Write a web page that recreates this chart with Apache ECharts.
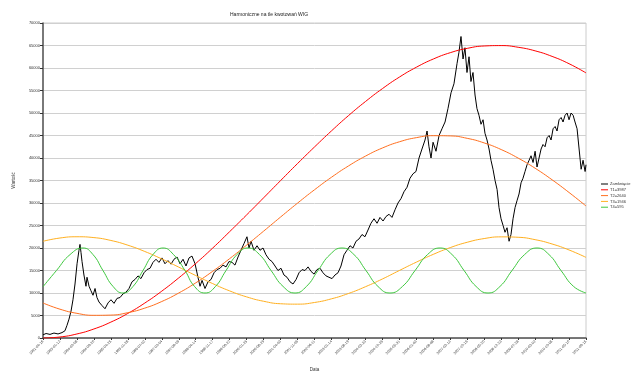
<!DOCTYPE html>
<html><head><meta charset="utf-8">
<script src="https://cdn.jsdelivr.net/npm/echarts@6/dist/echarts.min.js"></script>
<style>html,body{margin:0;padding:0;background:#fff}#c{width:640px;height:384px}</style>
</head><body><div id="c"></div>
<script>
// x = numer sesji (co 150 sesji etykieta daty)
const tickLabels = ["1991-04-16","1993-01-12","1994-02-08","1994-09-20","1995-04-25","1995-11-28","1996-07-02","1997-02-04","1997-09-09","1998-04-14","1998-11-17","1999-06-22","2000-01-25","2000-08-29","2001-04-03","2001-11-06","2002-06-11","2003-01-14","2003-08-19","2004-03-23","2004-10-26","2005-05-31","2006-01-03","2006-08-08","2007-03-13","2007-10-16","2008-05-20","2008-12-23","2009-07-28","2010-03-02","2010-10-05","2011-05-10","2011-09-15"];
const seriesNames = ["Zamknięcie","T1=3987","T2=2640","T3=1946","T4=595"];
const wigX = [0,27,62,97,133,168,194,212,230,248,265,283,301,318,327,336,345,362,380,389,407,424,442,460,477,495,522,548,575,601,628,654,681,707,734,760,787,813,840,866,893,919,946,972,999,1025,1052,1078,1105,1132,1158,1185,1211,1238,1264,1291,1317,1344,1370,1388,1406,1432,1459,1485,1512,1538,1565,1591,1618,1644,1671,1697,1724,1750,1777,1803,1821,1839,1865,1892,1918,1945,1971,1998,2024,2051,2077,2104,2130,2157,2183,2210,2237,2263,2290,2316,2343,2369,2396,2422,2449,2475,2502,2528,2555,2581,2608,2634,2661,2687,2714,2740,2767,2793,2820,2846,2873,2899,2926,2953,2979,3006,3032,3059,3085,3112,3138,3165,3191,3218,3244,3271,3297,3324,3350,3377,3395,3412,3430,3448,3474,3501,3527,3554,3580,3607,3633,3660,3677,3695,3713,3730,3748,3766,3783,3801,3819,3836,3854,3872,3890,3907,3925,3943,3960,3978,3996,4014,4031,4049,4067,4084,4102,4120,4137,4155,4173,4190,4208,4226,4243,4261,4279,4297,4314,4332,4350,4367,4385,4403,4420,4438,4456,4474,4491,4509,4527,4544,4562,4580,4597,4615,4633,4650,4668,4686,4703,4721,4739,4757,4774,4792,4800];
const wigY = [700,1000,800,1100,900,1200,1600,2800,4200,6000,8500,12000,16500,19500,20800,19000,17000,14000,11500,13500,11500,10500,9500,11000,9000,8000,7200,6500,7800,8500,7700,8800,9000,9800,10200,11000,12500,13000,13800,13200,14500,15200,15500,16800,17500,16800,17800,16500,17200,16400,17500,18000,16500,17500,16000,17800,18200,16500,13500,11500,12800,11000,12500,13000,14500,15200,15500,16200,15800,17000,16800,16200,18000,19500,21000,22500,20000,21500,19500,20500,19500,20000,18500,17500,17000,16000,15000,15500,14000,13500,12500,12000,13000,14500,15200,15000,15800,14800,14200,15200,15500,14500,13800,13500,13200,14000,14500,16000,18500,19500,20500,20000,21500,22000,23000,22500,24000,25500,26500,25500,26800,26000,27000,27500,26800,28500,30000,31000,32500,33500,35500,36500,37000,40000,42000,44000,46000,42500,40000,43500,41500,45000,46500,48000,51000,54500,56500,61000,63500,67000,62000,64500,59000,62500,57000,59000,54000,51000,49500,47500,48500,45500,44000,42000,39500,37500,35000,33000,29000,26500,25000,23500,24500,21500,23000,26500,29000,30500,32000,34500,35500,37000,38500,39500,40500,39000,41500,38000,40000,42000,43000,42500,44500,45000,44000,46500,47000,46000,48500,49000,48000,49500,50000,48500,50000,49500,48000,46500,42000,37500,39500,37000,38500];
// harmoniczne odczytane co etykietę (co 150 sesji)
const t1 = [0,225,896,2005,3533,5463,7768,10413,13361,16559,19987,23633,27355,31150,34977,38769,42452,46024,49410,52540,55409,57974,60167,61994,63404,64363,64893,64980,64610,63814,62582,60954,58913];
const t2 = [7780,6400,5480,5040,5090,5630,6640,8110,10000,12250,14820,17640,20640,23740,26880,29970,32940,35720,38230,40410,42220,43600,44520,44960,44910,44370,43350,41880,39980,37730,35160,32340,29340];
const t3 = [21495,22220,22498,22312,21674,20623,19225,17565,15748,13882,12087,10466,9137,8164,7612,7521,7891,8705,9889,11390,13112,15000,16853,18590,20090,21274,22100,22475,22385,21853,20894,19564,17920];
const t4X = [0,119,239,354,442,530,619,707,796,884,972,1061,1154,1255,1339,1432,1525,1618,1715,1812,1914,2016,2122,2228,2329,2431,2537,2643,2749,2855,2961,3067,3178,3289,3399,3510,3616,3722,3828,3934,4040,4146,4257,4367,4473,4579,4690,4800];
const t4Y = [11400,15000,18536,20000,18536,15000,11464,10000,11464,15000,18536,20000,18536,15000,11464,10000,11464,15000,18536,20000,18536,15000,11464,10000,11464,15000,18536,20000,18536,15000,11464,10000,11464,15000,18536,20000,18536,15000,11464,10000,11464,15000,18536,20000,18536,15000,11464,10000];

const step = 150;
const pairs = (xs, ys) => ys.map((v, i) => [xs[i], v]);
const byTick = ys => ys.map((v, i) => [i * step, v]);
const colors = ['#000000', '#ff0000', '#ff6f1f', '#ffb020', '#3ec83e'];

const chart = echarts.init(document.getElementById('c'), null, {renderer: 'canvas'});
const font = 'Liberation Sans, Arial, sans-serif';
chart.setOption({
  animation: false,
  backgroundColor: '#ffffff',
  color: colors,
  title: {text: 'Harmoniczne na tle kwotowań WIG', left: 225, top: 7,
    textStyle: {fontSize: 5, fontWeight: 'normal', color: '#222', fontFamily: font}},
  legend: {orient: 'vertical', left: 596, top: 177, itemWidth: 7, itemHeight: 1, itemGap: 1.8,
    icon: 'rect', data: seriesNames,
    textStyle: {fontSize: 4, color: '#333', fontFamily: font, padding: [0,0,0,-3]}},
  grid: {left: 43, right: 54, top: 23, bottom: 46, show: true, borderColor: '#cccccc', borderWidth: 1},
  xAxis: {type: 'value', min: 0, max: (tickLabels.length - 1) * step, interval: step,
    name: 'Data', nameLocation: 'middle', nameGap: 29,
    nameTextStyle: {fontSize: 4.5, color: '#333', fontFamily: font},
    axisLine: {lineStyle: {color: '#555', width: 1.5}},
    axisTick: {show: true, length: 2, lineStyle: {color: '#333'}},
    splitLine: {show: false},
    axisLabel: {rotate: 45, fontSize: 3.6, color: '#333', margin: 3, fontFamily: font,
      showMinLabel: true, showMaxLabel: true,
      formatter: v => tickLabels[Math.round(v / step)] || ''}},
  yAxis: {type: 'value', min: 0, max: 70000, interval: 5000,
    name: 'Wartość', nameLocation: 'middle', nameGap: 27, nameRotate: 90,
    nameTextStyle: {fontSize: 4.5, color: '#333', fontFamily: font},
    axisLine: {show: true, lineStyle: {color: '#555', width: 1.5}},
    axisTick: {show: true, length: 3, lineStyle: {color: '#333'}},
    splitLine: {lineStyle: {color: '#d0d0d0', width: 1}},
    axisLabel: {fontSize: 4, color: '#333', margin: 3, fontFamily: font, formatter: v => String(v)}},
  series: [
    {name: seriesNames[0], type: 'line', data: pairs(wigX, wigY), showSymbol: false, lineStyle: {width: 1, color: colors[0]}, z: 2},
    {name: seriesNames[1], type: 'line', data: byTick(t1), smooth: true, showSymbol: false, lineStyle: {width: 1, color: colors[1]}, z: 3},
    {name: seriesNames[2], type: 'line', data: byTick(t2), smooth: true, showSymbol: false, lineStyle: {width: 1, color: colors[2]}, z: 3},
    {name: seriesNames[3], type: 'line', data: byTick(t3), smooth: true, showSymbol: false, lineStyle: {width: 1, color: colors[3]}, z: 3},
    {name: seriesNames[4], type: 'line', data: pairs(t4X, t4Y), smooth: true, showSymbol: false, lineStyle: {width: 1, color: colors[4]}, z: 3}
  ]
});
</script></body></html>
